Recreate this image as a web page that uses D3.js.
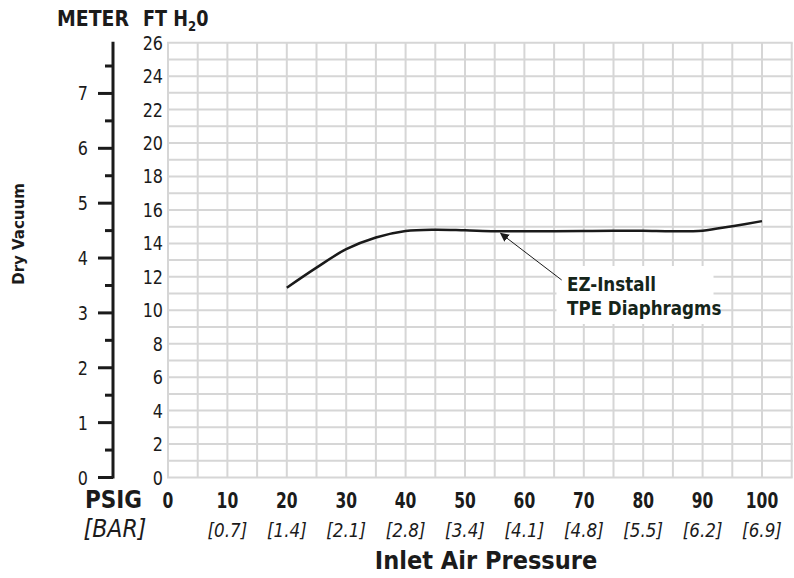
<!DOCTYPE html>
<html>
<head>
<meta charset="utf-8">
<script src="https://d3js.org/d3.v7.min.js"></script>
<style>
  body { margin: 0; background: #fff; }
  svg text { font-family: "DejaVu Sans", sans-serif; }
</style>
</head>
<body>
<div id="chart"></div>
<script>
// Chart data
const psi = [20, 25, 30, 35, 40, 45, 50, 55, 60, 65, 70, 75, 80, 85, 90, 95, 100];
const ftH2O = [11.35, 12.55, 13.65, 14.35, 14.74, 14.82, 14.78, 14.73, 14.72, 14.73, 14.74, 14.75, 14.75, 14.72, 14.76, 15.03, 15.33];

const psiTicks = [0, 10, 20, 30, 40, 50, 60, 70, 80, 90, 100];
const barLabels = ["", "[0.7]", "[1.4]", "[2.1]", "[2.8]", "[3.4]", "[4.1]", "[4.8]", "[5.5]", "[6.2]", "[6.9]"];
const ftTicks = [0, 2, 4, 6, 8, 10, 12, 14, 16, 18, 20, 22, 24, 26];
const meterTicks = [0, 1, 2, 3, 4, 5, 6, 7];
const seriesLabel = ["EZ-Install", "TPE Diaphragms"];
const pointedAt = { psi: 56, ft: 14.6 };

const width = 794, height = 578;
const FT_PER_M = 3.28084;
const ink = "#1b1b1b";

const x = d3.scaleLinear().domain([0, 105]).range([168, 791.7]);
const y = d3.scaleLinear().domain([0, 26]).range([477.5, 42.7]);
const yM = d3.scaleLinear().domain([0, 26 / FT_PER_M]).range([477.5, 42.7]);

const svg = d3.select("#chart").append("svg")
    .attr("width", width)
    .attr("height", height);

// condensed text: no narrow font installed, so squeeze horizontally
function label(parent, px, py, str, opt) {
    const o = Object.assign({ size: 20, weight: "normal", style: "normal", anchor: "start", sx: 0.8, fill: ink }, opt);
    return parent.append("text")
        .attr("transform", `translate(${px},${py}) scale(${o.sx},1)`)
        .attr("text-anchor", o.anchor)
        .style("font-size", o.size + "px")
        .style("font-weight", o.weight)
        .style("font-style", o.style)
        .style("fill", o.fill)
        .text(str);
}

// grid
const gridColor = "#d6d6d6";
const grid = svg.append("g");
grid.selectAll(".vg")
    .data(d3.range(0, 106, 5))
    .enter().append("line")
    .attr("x1", d => x(d)).attr("x2", d => x(d))
    .attr("y1", y(0)).attr("y2", y(26))
    .style("stroke", gridColor).style("stroke-width", 2);
grid.selectAll(".hg")
    .data(d3.range(0, 27, 1))
    .enter().append("line")
    .attr("x1", x(0) - 1).attr("x2", x(105) + 1)
    .attr("y1", d => y(d)).attr("y2", d => y(d))
    .style("stroke", gridColor).style("stroke-width", 2);

// ft H2O labels
const ftG = svg.append("g");
ftTicks.forEach(d => label(ftG, 163, y(d) + 7, d, { anchor: "end", size: 20, sx: 0.8 }));

// meter axis
const mAxis = svg.append("g").attr("transform", "translate(113,0)");
mAxis.append("line")
    .attr("x1", 0).attr("x2", 0)
    .attr("y1", yM(0) + 1).attr("y2", y(26) - 1)
    .style("stroke", ink).style("stroke-width", 3);
mAxis.selectAll(".tk")
    .data(d3.range(0, 8, 0.5))
    .enter().append("line")
    .attr("x1", d => d % 1 === 0 ? -15 : -8)
    .attr("x2", 0)
    .attr("y1", d => yM(d)).attr("y2", d => yM(d))
    .style("stroke", ink).style("stroke-width", 3);
meterTicks.forEach(d => label(mAxis, -25, yM(d) + 7, d, { anchor: "end", size: 20, sx: 0.8 }));

// headers
label(svg, 57, 26, "METER", { size: 21, weight: "bold", sx: 0.9 });
const ftHead = label(svg, 143, 26, "", { size: 21, weight: "bold", sx: 0.84 });
ftHead.append("tspan").text("FT H");
ftHead.append("tspan").attr("dy", 5).style("font-size", "14px").text("2");
ftHead.append("tspan").attr("dy", -5).text("0");

// x labels
const xg = svg.append("g");
psiTicks.forEach((d, i) => {
    label(xg, x(d), 508, d, { anchor: "middle", size: 21, weight: "bold", sx: 0.74 });
    label(xg, x(d), 537, barLabels[i], { anchor: "middle", size: 20, style: "italic", sx: 0.84 });
});
label(svg, 113.5, 508, "PSIG", { anchor: "middle", size: 24, weight: "bold", sx: 0.9 });
label(svg, 115, 537, "[BAR]", { anchor: "middle", size: 24, style: "italic", sx: 0.92 });

// axis titles
label(svg, 486, 569, "Inlet Air Pressure", { anchor: "middle", size: 24, weight: "bold", sx: 0.94 });
svg.append("text")
    .attr("transform", "translate(24,234) rotate(-90)")
    .attr("text-anchor", "middle")
    .style("font-size", "15px").style("font-weight", "bold").style("fill", ink)
    .text("Dry Vacuum");

// curve
const line = d3.line()
    .x(d => x(d[0]))
    .y(d => y(d[1]))
    .curve(d3.curveCatmullRom.alpha(0.5));
svg.append("path")
    .datum(d3.zip(psi, ftH2O))
    .attr("d", line)
    .style("fill", "none")
    .style("stroke", "#1a1a1a")
    .style("stroke-width", 2.5);

// label box + arrow
svg.append("rect")
    .attr("x", 556.5).attr("y", 266)
    .attr("width", 157).attr("height", 58)
    .style("fill", "#fff");

svg.append("defs").append("marker")
    .attr("id", "arr")
    .attr("viewBox", "0 0 10 10")
    .attr("refX", 9).attr("refY", 5)
    .attr("markerWidth", 9).attr("markerHeight", 9)
    .attr("markerUnits", "userSpaceOnUse")
    .attr("orient", "auto")
    .append("path")
    .attr("d", "M0,0 L10,5 L0,10 Z")
    .style("fill", ink);

svg.append("line")
    .attr("x1", 561.7).attr("y1", 280)
    .attr("x2", x(pointedAt.psi)).attr("y2", y(pointedAt.ft))
    .attr("marker-end", "url(#arr)")
    .style("stroke", ink).style("stroke-width", 1);

const lg = svg.append("g");
seriesLabel.forEach((d, i) => label(lg, 567, 291 + i * 24, d, { size: 19, weight: "bold", sx: 0.88, fill: "#15251a" }));
</script>
</body>
</html>
